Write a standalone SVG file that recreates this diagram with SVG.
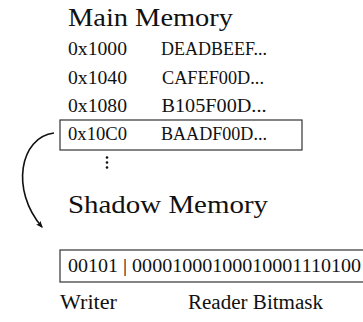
<svg xmlns="http://www.w3.org/2000/svg" width="363" height="322" viewBox="0 0 363 322">
<style>
  text { font-family: "Liberation Serif", "Times New Roman", serif; fill: #111; }
  .title { font-size: 26px; }
  .row { font-size: 19.5px; }
  .bits { font-size: 18.5px; }
  .lbl { font-size: 20px; }
  .box { fill: none; stroke: #333; stroke-width: 1.2; }
  .conn { fill: none; stroke: #111; stroke-width: 1.6; }
</style>
<defs>
  <marker id="arr" viewBox="0 0 12 10" refX="10" refY="5" markerWidth="7" markerHeight="6" orient="auto" markerUnits="userSpaceOnUse">
    <path d="M0,0 Q4,5 0,10 L12,5 Z" fill="#111"/>
  </marker>
</defs>
<rect width="363" height="322" fill="#fff"/>
<g id="main-memory">
  <text class="title" x="68" y="26" textLength="165" lengthAdjust="spacingAndGlyphs">Main Memory</text>
  <text class="row" x="68" y="55" textLength="59" lengthAdjust="spacingAndGlyphs">0x1000</text>
  <text class="row" x="161" y="55" textLength="106" lengthAdjust="spacingAndGlyphs">DEADBEEF...</text>
  <text class="row" x="68" y="83.5" textLength="59" lengthAdjust="spacingAndGlyphs">0x1040</text>
  <text class="row" x="162" y="83.5" textLength="102" lengthAdjust="spacingAndGlyphs">CAFEF00D...</text>
  <text class="row" x="68" y="111.5" textLength="59" lengthAdjust="spacingAndGlyphs">0x1080</text>
  <text class="row" x="161.5" y="111.5" textLength="105" lengthAdjust="spacingAndGlyphs">B105F00D...</text>
</g>
<g id="row-10C0">
  <rect class="box" x="60" y="120" width="242" height="30"/>
  <text class="row" x="68" y="140" textLength="59" lengthAdjust="spacingAndGlyphs">0x10C0</text>
  <text class="row" x="161" y="140" textLength="106" lengthAdjust="spacingAndGlyphs">BAADF00D...</text>
</g>
<g id="ellipsis">
  <circle cx="107" cy="157.5" r="1.3" fill="#111"/>
  <circle cx="107" cy="162.5" r="1.3" fill="#111"/>
  <circle cx="107" cy="167.5" r="1.3" fill="#111"/>
</g>
<g id="shadow-memory">
  <text class="title" x="68" y="213" textLength="200" lengthAdjust="spacingAndGlyphs">Shadow Memory</text>
  <rect class="box" x="60" y="250" width="310" height="32"/>
  <text class="bits" x="68" y="272" textLength="293" lengthAdjust="spacingAndGlyphs">00101 | 00001000100010001110100</text>
  <text class="lbl" x="60" y="309" textLength="57" lengthAdjust="spacingAndGlyphs">Writer</text>
  <text class="lbl" x="188" y="309" textLength="135" lengthAdjust="spacingAndGlyphs">Reader Bitmask</text>
</g>
<g id="connectors">
  <path class="conn" d="M54,133 C20,137 10,190 42,227" marker-end="url(#arr)"/>
</g>
</svg>
